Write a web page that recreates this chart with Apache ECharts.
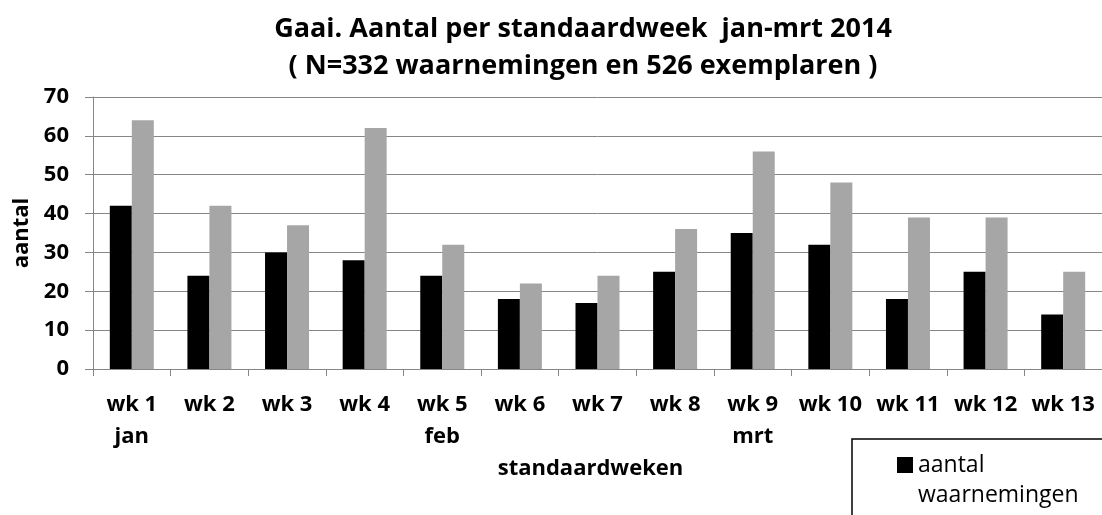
<!DOCTYPE html>
<html>
<head>
<meta charset="utf-8">
<script src="https://cdn.jsdelivr.net/npm/echarts@6/dist/echarts.min.js"></script>
<style>
    html, body { margin: 0; padding: 0; background: #fff; }
    #tu { width: 1102px; height: 515px; }
</style>
</head>
<body>
<div id="tu"></div>
<script>
// weken (categorieen)
var weken = ['wk 1\njan', 'wk 2', 'wk 3', 'wk 4', 'wk 5\nfeb', 'wk 6', 'wk 7', 'wk 8',
    'wk 9\nmrt', 'wk 10', 'wk 11', 'wk 12', 'wk 13'];
// aantal waarnemingen per week
var waarnemingen = [42, 24, 30, 28, 24, 18, 17, 25, 35, 32, 18, 25, 14];
// aantal exemplaren per week
var exemplaren = [64, 42, 37, 62, 32, 22, 24, 36, 56, 48, 39, 39, 25];

var font = '"Open Sans", sans-serif';
var tu = echarts.init(document.getElementById('tu'));

var option = {
    animation: false,
    backgroundColor: '#fff',
    title: {
        text: 'Gaai. Aantal per standaardweek  jan-mrt 2014\n( N=332 waarnemingen en 526 exemplaren )',
        left: 578,
        top: 6,
        textAlign: 'center',
        textStyle: {
            fontFamily: font,
            fontWeight: 'bold',
            fontSize: 27,
            lineHeight: 37,
            color: '#000'
        }
    },
    legend: {
        orient: 'vertical',
        left: 897,
        top: 450,
        height: 300,
        padding: 0,
        itemWidth: 16,
        itemHeight: 46,
        itemGap: 20,
        // vierkantje bovenaan, zodat het bij de eerste tekstregel staat
        icon: 'path://M0,0H16V16H0Z M0,46H0.001V46.001H0Z',
        formatter: function (name) {
            return name.replace(' ', '\n');
        },
        textStyle: {
            fontFamily: font,
            fontSize: 23,
            lineHeight: 30,
            color: '#000'
        },
        data: ['aantal waarnemingen', 'aantal exemplaren']
    },
    graphic: [{
        type: 'rect',
        shape: { x: 852, y: 439, width: 300, height: 120 },
        style: { fill: 'none', stroke: '#000', lineWidth: 1.5 },
        z: 10
    }],
    grid: {
        left: 93,
        top: 97,
        width: 1012,
        height: 272,
        containLabel: false
    },
    xAxis: {
        type: 'category',
        data: weken,
        name: 'standaardweken',
        nameLocation: 'middle',
        nameGap: 83,
        nameTextStyle: {
            fontFamily: font,
            fontWeight: 'bold',
            fontSize: 22,
            color: '#000',
            padding: [0, 14, 0, 0]
        },
        axisLine: { lineStyle: { color: '#868686', width: 1 } },
        axisTick: { show: true, length: 7, lineStyle: { color: '#868686' } },
        axisLabel: {
            interval: 0,
            margin: 20,
            fontFamily: font,
            fontWeight: 'bold',
            fontSize: 22,
            lineHeight: 32,
            color: '#000'
        }
    },
    yAxis: {
        type: 'value',
        min: 0,
        max: 70,
        interval: 10,
        name: 'aantal',
        nameLocation: 'middle',
        nameGap: 58,
        nameRotate: 90,
        nameTextStyle: {
            fontFamily: font,
            fontWeight: 'bold',
            fontSize: 22,
            color: '#000'
        },
        axisLine: { show: true, lineStyle: { color: '#868686', width: 1 } },
        axisTick: { show: true, length: 8, lineStyle: { color: '#868686' } },
        splitLine: { show: true, lineStyle: { color: '#868686', width: 1 } },
        axisLabel: {
            margin: 24,
            fontFamily: font,
            fontWeight: 'bold',
            fontSize: 22,
            color: '#000'
        }
    },
    series: [
        {
            name: 'aantal waarnemingen',
            type: 'bar',
            data: waarnemingen,
            barWidth: 22,
            barGap: '0%',
            itemStyle: { color: '#000' }
        },
        {
            name: 'aantal exemplaren',
            type: 'bar',
            data: exemplaren,
            barWidth: 22,
            barGap: '0%',
            itemStyle: { color: '#a6a6a6' }
        }
    ]
};
tu.setOption(option);
</script>
</body>
</html>
